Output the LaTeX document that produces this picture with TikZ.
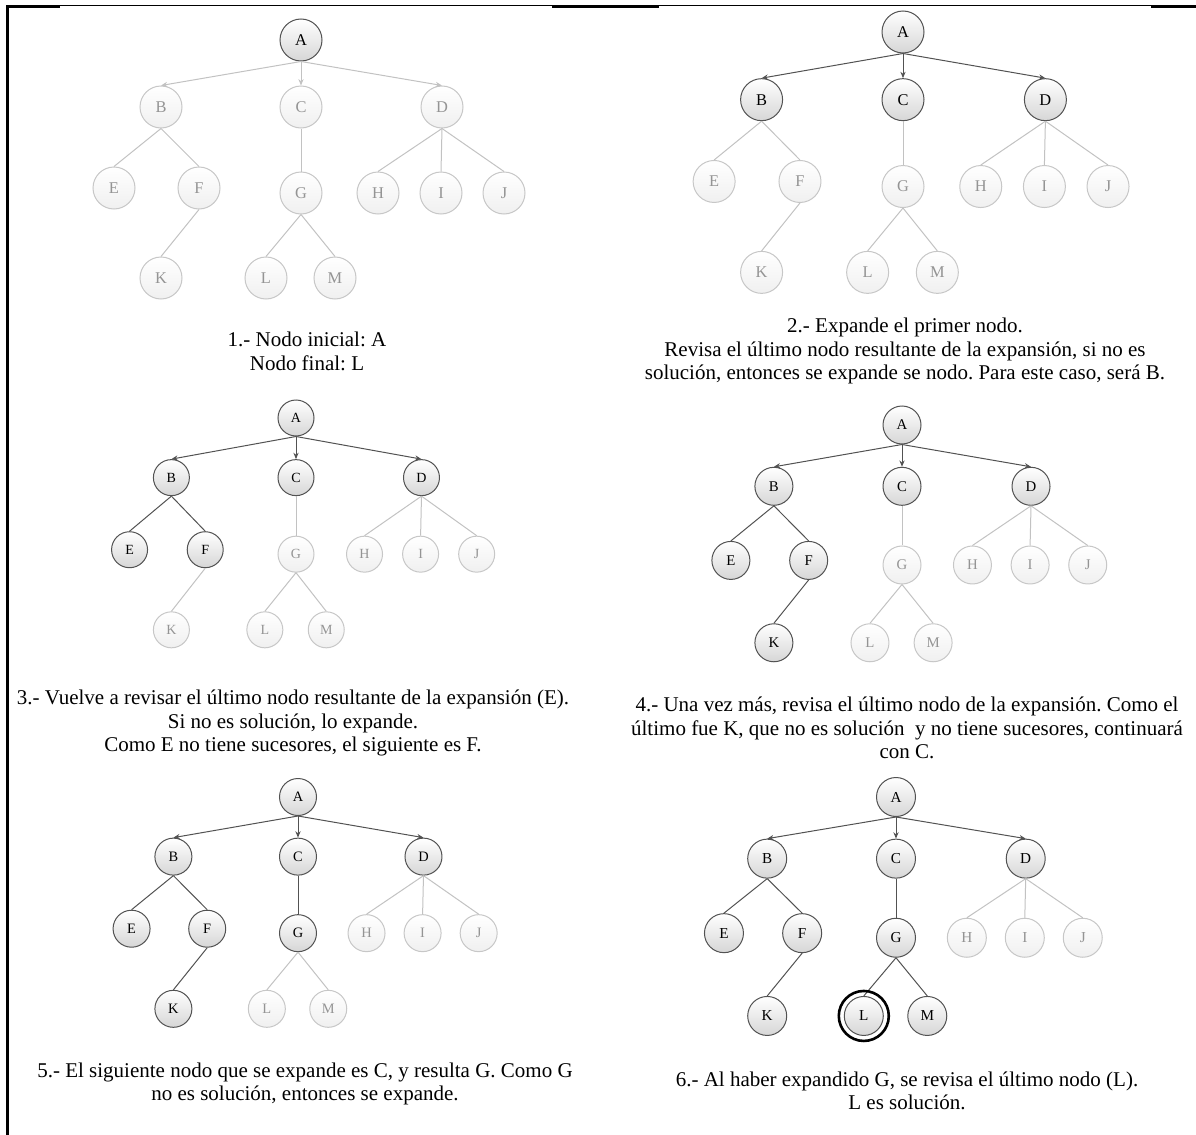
\documentclass[tikz,border=0pt]{standalone}
\usepackage{fontspec}
\setmainfont{Liberation Serif}
\frenchspacing
\usetikzlibrary{arrows.meta}

\begin{document}
\begin{tikzpicture}[x=0.5pt,y=-0.5pt,
    nodo/.style={circle, draw, inner sep=0pt, line width=0.5pt},
    activo/.style={draw=black!68, text=black, top color=white, bottom color=black!16},
    apagado/.style={draw=black!22, text=black!42, top color=white, bottom color=black!6},
    flecha/.style={line width=0.5pt, -{Stealth[length=3.2pt,width=2.6pt]}},
    lineaon/.style={draw=black!68},
    lineaoff/.style={draw=black!24},
    texto/.style={align=center, font=\fontsize{10.5}{11.7}\selectfont},
    meta/.style={circle, draw=black, line width=1.3pt, inner sep=0pt, minimum size=25pt}]
\useasboundingbox (0,0) rectangle (1196,1135);
%Table borders
\draw[line width=0.5pt] (7,5.5) -- (1196,5.5);
\draw[line width=1.3pt] (7,6.3) -- (60,6.3);
\draw[line width=1.3pt] (552,6.3) -- (659,6.3);
\draw[line width=1.3pt] (1151,6.3) -- (1196,6.3);
\draw[line width=1.1pt] (7.5,5) -- (7.5,1135);

%Trees: panel / A position / scale / node size / letter size / step
\foreach \pan/\ax/\ay/\esc/\diam/\fsz/\paso in {1/301/40/1/21/8.2/1, 2/903/32/1.01/21/8.2/2,
    3/296/418/0.89/18/7/3, 4/902/425/0.915/19/7.4/4,
    5/298/797/0.89/18.5/7.2/5, 6/896/797/0.92/19.5/7.6/6}{
  \begin{scope}[shift={(\ax,\ay)}]
    %nodes (last value: step where the node is reached)
    \foreach \nom/\x/\y/\nv in {A/0/0/1, B/-140/67/2, C/0/67/2, D/141/67/2,
        E/-187/148/3, F/-102/148/3, G/0/153/5, H/77/153/7, I/140/153/7, J/203/153/7,
        K/-140/238/4, L/-35/238/6, M/34/238/6}{
      \ifnum\nv>\paso \def\estado{apagado}\else\def\estado{activo}\fi
      \node[nodo, \estado, minimum size=\diam pt, font=\fontsize{\fsz}{\fsz}\selectfont]
        (p\pan\nom) at ({\x*\esc},{\y*\esc}) {\nom};
    }
    %arrows from the root
    \foreach \nom/\nv in {B/2, C/2, D/2}{
      \ifnum\nv>\paso \def\estado{lineaoff}\else\def\estado{lineaon}\fi
      \draw[flecha, \estado] (p\pan A.south) -- (p\pan\nom.north);
    }
    %other links
    \foreach \a/\b/\nv in {B/E/3, B/F/3, C/G/5, D/H/7, D/I/7, D/J/7, F/K/4, G/L/6, G/M/6}{
      \ifnum\nv>\paso \def\estado{lineaoff}\else\def\estado{lineaon}\fi
      \draw[line width=0.5pt, \estado] (p\pan\a.south) -- (p\pan\b.north);
    }
  \end{scope}
}
%solution found
\node[meta] (fin) at (p6L) {};

%Captions
\node[texto] (t1) at (307,351.5) {1.- Nodo inicial: A\\Nodo final: L};
\node[texto] (t2) at (905,351) {2.- Expande el primer nodo.\\Revisa el último nodo resultante de la expansión, si no es\\solución, entonces se expande se nodo. Para este caso, será B.};
\node[texto] (t3) at (293,723) {3.- Vuelve a revisar el último nodo resultante de la expansión (E).\\Si no es solución, lo expande.\\Como E no tiene sucesores, el siguiente es F.};
\node[texto] (t4) at (907,728) {4.- Una vez más, revisa el último nodo de la expansión. Como el\\último fue K, que no es solución\ \ y no tiene sucesores, continuará\\con C.};
\node[texto] (t5) at (305,1084) {5.- El siguiente nodo que se expande es C, y resulta G. Como G\\no es solución, entonces se expande.};
\node[texto] (t6) at (907,1091) {6.- Al haber expandido G, se revisa el último nodo (L).\\L es solución.};
\end{tikzpicture}
\end{document}
